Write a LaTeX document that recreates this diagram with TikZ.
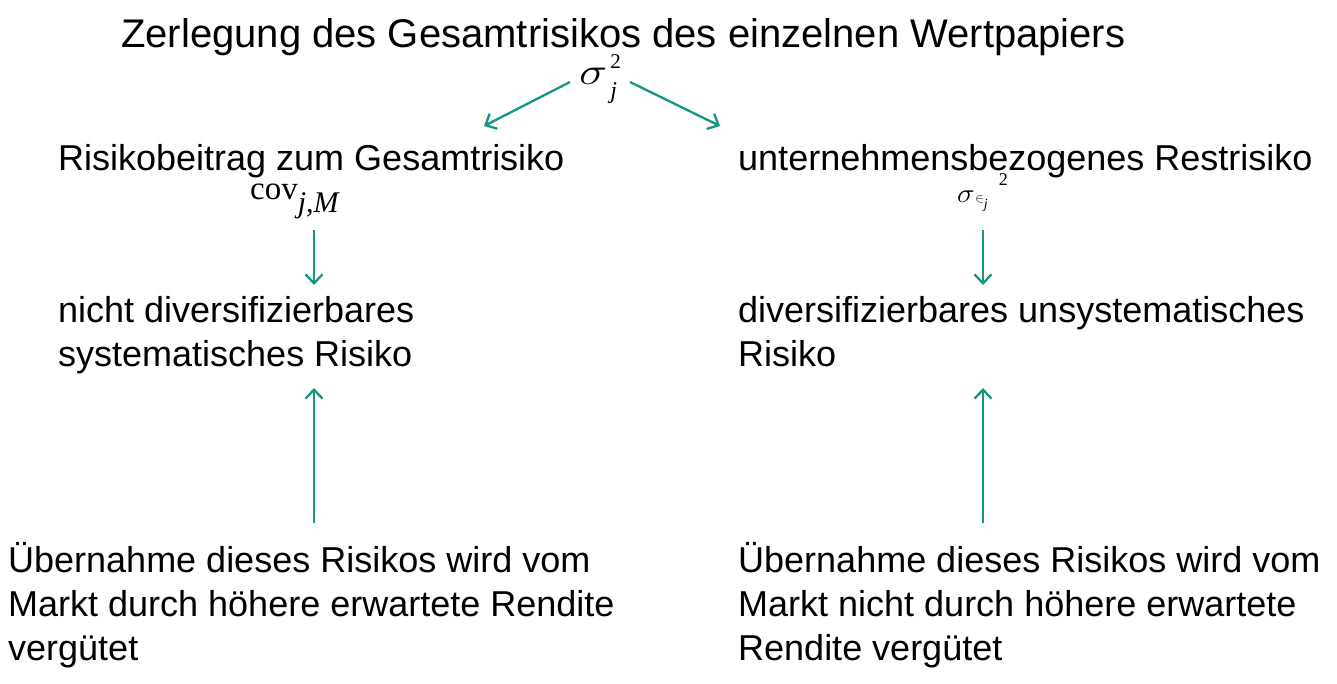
\RequirePackage{fix-cm}
\documentclass[tikz,border=0pt]{standalone}
\usepackage{amsmath}
\usepackage{graphicx}
\usepackage{fontspec}
\setmainfont{Liberation Sans}
\newfontfamily\mfont{Liberation Serif}
\usetikzlibrary{arrows.meta}
\definecolor{teal1}{RGB}{20,150,128}
\tikzset{
  lbl/.style={anchor=base west, inner sep=0pt, align=left, font=\fontsize{36}{44}\selectfont},
  ttl/.style={anchor=base west, inner sep=0pt, font=\fontsize{40}{46}\selectfont},
  mth/.style={anchor=base west, inner sep=0pt},
  arr/.style={draw=teal1, line width=2.3pt, -{Straight Barb[length=9pt,width=17pt,line width=2.3pt]}}
}
\begin{document}
\begin{tikzpicture}[x=1pt,y=-1pt]
\useasboundingbox (0,0) rectangle (1337,683);
\node[ttl] (title) at (121,47) {Zerlegung des Gesamtrisikos des einzelnen Wertpapiers};
\node[mth] (sig) at (579,84) {\scalebox{1.25}[1]{\fontsize{38}{40}\selectfont$\sigma$}\kern3pt\rlap{\raisebox{16pt}{\fontsize{21}{23}\selectfont\mfont 2}}\raisebox{-14pt}{\fontsize{24}{26}\selectfont\mfont\itshape j}};
\node[lbl] (lh) at (58,170) {Risikobeitrag zum Gesamtrisiko};
\node[lbl] (rh) at (738,170) {unternehmensbezogenes Restrisiko};
\node[mth] (cov) at (250,199) {{\fontsize{33}{36}\selectfont\mfont cov}\raisebox{-13pt}{\fontsize{30}{32}\selectfont\mfont\itshape j,M}};
\node[mth] (sige) at (957,202) {\scalebox{1.1}[1]{\fontsize{27}{28}\selectfont$\sigma$}\kern0.5pt\raisebox{0pt}{\fontsize{13}{14}\selectfont$\in$}\raisebox{-6pt}{\fontsize{14}{15}\selectfont\mfont\itshape j}\kern11pt\raisebox{17pt}{\fontsize{18}{20}\selectfont\mfont 2}};
\node[lbl] (lm) at (58,366) {nicht diversifizierbares\\systematisches Risiko};
\node[lbl] (rm) at (738,366) {diversifizierbares unsystematisches\\Risiko};
\node[lbl] (lb) at (8,660) {Übernahme dieses Risikos wird vom\\Markt durch höhere erwartete Rendite\\vergütet};
\node[lbl] (rb) at (738,660) {Übernahme dieses Risikos wird vom\\Markt nicht durch höhere erwartete\\Rendite vergütet};
\coordinate (s1) at (570,82);
\coordinate (e1) at (484,126);
\coordinate (s2) at (630,82);
\coordinate (e2) at (720,126);
\coordinate (c1) at (314,230);
\coordinate (d1) at (314,285);
\coordinate (c2) at (983,230);
\coordinate (d2) at (983,285);
\coordinate (u1) at (314,523);
\coordinate (t1) at (314,388);
\coordinate (u2) at (983,523);
\coordinate (t2) at (983,388);
\draw[arr] (s1) -- (e1);
\draw[arr] (s2) -- (e2);
\draw[arr] (c1) -- (d1);
\draw[arr] (c2) -- (d2);
\draw[arr] (u1) -- (t1);
\draw[arr] (u2) -- (t2);
\end{tikzpicture}
\end{document}
